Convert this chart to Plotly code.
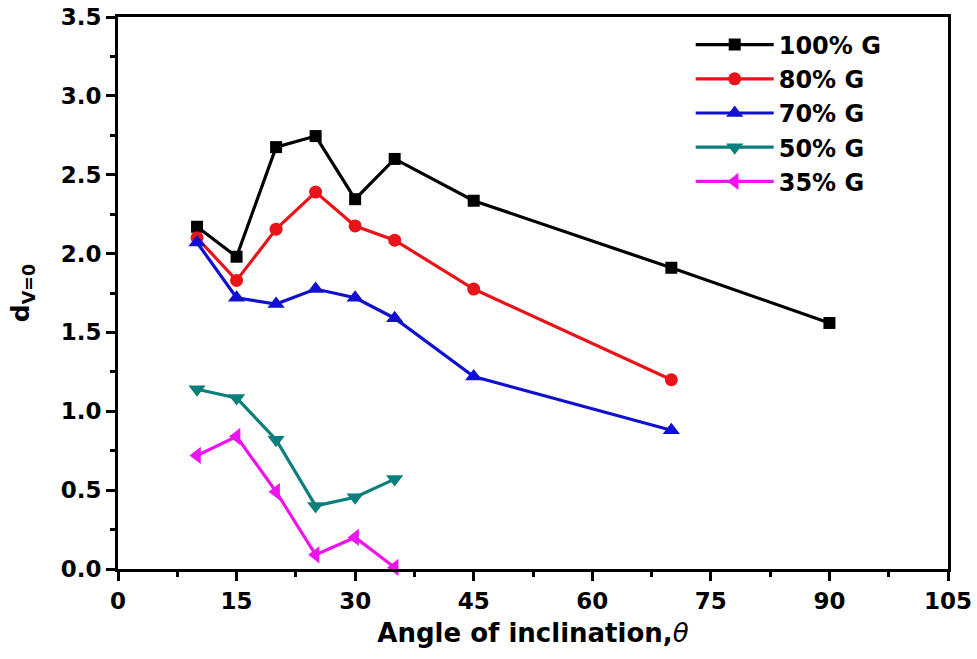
import plotly.graph_objects as go

angles_100 = [10, 15, 20, 25, 30, 35, 45, 70, 90]
g100 = [2.17, 1.98, 2.675, 2.745, 2.345, 2.60, 2.335, 1.91, 1.56]
angles_80 = [10, 15, 20, 25, 30, 35, 45, 70]
g80 = [2.10, 1.83, 2.155, 2.39, 2.175, 2.085, 1.775, 1.20]
angles_70 = [10, 15, 20, 25, 30, 35, 45, 70]
g70 = [2.07, 1.72, 1.68, 1.775, 1.72, 1.59, 1.22, 0.88]
angles_50 = [10, 15, 20, 25, 30, 35]
g50 = [1.14, 1.085, 0.82, 0.40, 0.455, 0.57]
angles_35 = [10, 15, 20, 25, 30, 35]
g35 = [0.72, 0.84, 0.49, 0.09, 0.20, 0.01]

series = [
    ("100% G", angles_100, g100, "#000000", "square", 12),
    ("80% G", angles_80, g80, "#e8141a", "circle", 13),
    ("70% G", angles_70, g70, "#1010d0", "triangle-up", 15),
    ("50% G", angles_50, g50, "#0b7f7c", "triangle-down", 15),
    ("35% G", angles_35, g35, "#ee14ee", "triangle-left", 15),
]

fig = go.Figure()
for name, x, y, c, sym, sz in series:
    fig.add_trace(go.Scatter(
        x=x, y=y, name=name, mode="lines+markers",
        line=dict(color=c, width=3.2),
        marker=dict(symbol=sym, size=sz, color=c),
        cliponaxis=False,
    ))

font_family = "DejaVu Sans, sans-serif"
axis_common = dict(
    showline=True, linecolor="black", linewidth=3, mirror=True,
    ticks="outside", ticklen=9, tickwidth=3, tickcolor="black",
    showgrid=False, zeroline=False, automargin=False,
    tickfont=dict(family=font_family, size=23, color="black", weight="bold"),
)

fig.update_layout(
    width=977, height=659,
    margin=dict(l=118, r=29, t=17, b=90),
    paper_bgcolor="white", plot_bgcolor="white",
    showlegend=True,
    legend=dict(
        x=0.69, y=0.99, xanchor="left", yanchor="top",
        font=dict(family=font_family, size=24, color="black", weight="bold"),
        itemwidth=78, bgcolor="rgba(0,0,0,0)", tracegroupgap=0,
    ),
    xaxis=dict(
        range=[0, 105], tickmode="array", tickvals=[0, 15, 30, 45, 60, 75, 90, 105],
        minor=dict(ticks="outside", tickvals=[7.5, 22.5, 37.5, 52.5, 67.5, 82.5, 97.5],
                   ticklen=5, tickwidth=3, tickcolor="black"),
        title=dict(text="<b>Angle of inclination,</b><i>θ</i>",
                   font=dict(family=font_family, size=26, color="black"), standoff=12),
        **axis_common,
    ),
    yaxis=dict(
        range=[0, 3.5], tickmode="array", tickvals=[0, 0.5, 1, 1.5, 2, 2.5, 3, 3.5],
        ticktext=["0.0", "0.5", "1.0", "1.5", "2.0", "2.5", "3.0", "3.5"],
        minor=dict(ticks="outside", tickvals=[0.25, 0.75, 1.25, 1.75, 2.25, 2.75, 3.25],
                   ticklen=5, tickwidth=3, tickcolor="black"),
        title=dict(text="<b>d<sub>V=0</sub></b>",
                   font=dict(family=font_family, size=25, color="black"), standoff=24),
        **axis_common,
    ),
)

fig.write_html("out.html")
